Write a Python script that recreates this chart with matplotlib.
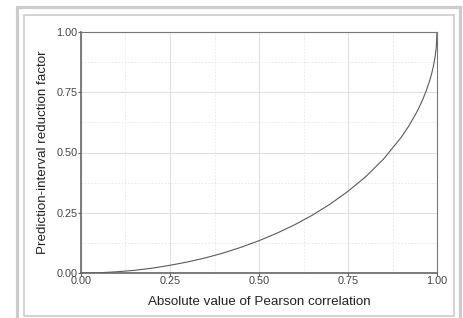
import matplotlib
matplotlib.use("Agg")
import matplotlib.pyplot as plt
from matplotlib.patches import Rectangle
import numpy as np

# values
corr = [0.0, 0.05, 0.1, 0.15, 0.2, 0.25, 0.3, 0.35, 0.4, 0.45, 0.5, 0.55,
        0.6, 0.65, 0.7, 0.75, 0.8, 0.85, 0.9, 0.92, 0.94, 0.95, 0.96, 0.97,
        0.98, 0.985, 0.99, 0.995, 0.998, 1.0]
factor = [0.0, 0.001, 0.005, 0.011, 0.020, 0.032, 0.046, 0.063, 0.083, 0.107,
          0.134, 0.165, 0.200, 0.240, 0.286, 0.339, 0.400, 0.473, 0.564, 0.608,
          0.659, 0.688, 0.720, 0.757, 0.801, 0.827, 0.859, 0.900, 0.937, 1.0]

ticks = [0.0, 0.25, 0.5, 0.75, 1.0]
tick_labels = ["0.00", "0.25", "0.50", "0.75", "1.00"]
minor_ticks = [0.125, 0.375, 0.625, 0.875]

plt.rcParams["font.family"] = ["Liberation Sans", "DejaVu Sans"]

W, H = 464, 318
fig = plt.figure(figsize=(W / 100, H / 100), dpi=100)

# outer frame decoration
def px_rect(x0, y0, x1, y1, lw, color):
    r = Rectangle((x0 / W, 1 - y1 / H), (x1 - x0) / W, (y1 - y0) / H,
                  transform=fig.transFigure, fill=False, lw=lw,
                  edgecolor=color, clip_on=False)
    fig.patches.append(r)

px_rect(17.5, 6.5, 460.5, 330, 2.3, "#cccccc")
px_rect(24.5, 14.5, 454.5, 315.5, 1.2, "#cccccc")

ax = fig.add_axes([81 / W, 1 - 273 / H, (437 - 81) / W, (273 - 32) / H])
ax.plot(corr, factor, color="#5a5a5a", lw=0.8)

ax.set_xlim(0, 1)
ax.set_ylim(0, 1)
ax.set_xticks(ticks)
ax.set_xticklabels(tick_labels)
ax.set_yticks(ticks)
ax.set_yticklabels(tick_labels)
ax.set_xticks(minor_ticks, minor=True)
ax.set_yticks(minor_ticks, minor=True)

ax.grid(True, which="major", color="#e0e0e0", lw=0.8, ls="-")
ax.grid(True, which="minor", color="#e6e6e6", lw=0.6, ls=(0, (2, 2)))
ax.set_axisbelow(True)

ax.tick_params(which="major", length=2, width=0.8, color="#666666",
               labelsize=7.8, labelcolor="#444444", pad=0.5)
ax.tick_params(which="minor", length=0)

for side in ["left", "bottom"]:
    ax.spines[side].set_color("#666666")
    ax.spines[side].set_linewidth(1.2)
for side in ["top", "right"]:
    ax.spines[side].set_color("#777777")
    ax.spines[side].set_linewidth(0.8)

ax.set_xlabel("Absolute value of Pearson correlation", fontsize=9.6,
              color="#222222", labelpad=7)
ax.set_ylabel("Prediction-interval reduction factor", fontsize=9.6,
              color="#222222", labelpad=5)

fig.savefig("out.png", dpi=100)
